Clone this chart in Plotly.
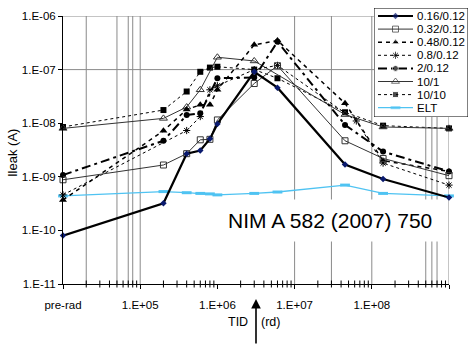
import plotly.graph_objects as go

# ---------------- data ----------------
PRE = 1e4      # position used for "pre-rad"
ANN = 1e9      # position used for "annealing"

tick_vals = [1e4, 1e5, 1e6, 1e7, 1e8, 1e9]
tick_text = ["pre-rad", "1.E+05", "1.E+06", "1.E+07", "1.E+08", "annealing"]
minor_vals = [m * 10 ** e for e in range(4, 9) for m in range(2, 10)]
ytick_vals = [1e-11, 1e-10, 1e-9, 1e-8, 1e-7, 1e-6]
ytick_text = ["1.E-11", "1.E-10", "1.E-09", "1.E-08", "1.E-07", "1.E-06"]

s016_x = [PRE, 2e5, 4e5, 6e5, 8e5, 1e6, 3e6, 6e6, 4.5e7, 1.4e8, ANN]
s016_y = [8e-11, 3.2e-10, 2.7e-9, 3.1e-9, 5.1e-9, 9.7e-9, 9.1e-8, 4.6e-8, 1.7e-9, 9.1e-10, 4.1e-10]

s032_x = [PRE, 2e5, 4e5, 6e5, 8e5, 1e6, 3e6, 6e6, 4.5e7, 1.4e8, ANN]
s032_y = [8.8e-10, 1.66e-9, 2.7e-9, 4.9e-9, 5.0e-9, 1.15e-8, 5.5e-8, 1.18e-7, 4.7e-9, 2.2e-9, 1.05e-9]

s048_x = [PRE, 2e5, 4e5, 6e5, 8e5, 1e6, 3e6, 6e6, 4.5e7, 1.4e8, ANN]
s048_y = [3.7e-10, 7.2e-9, 1.8e-8, 2.2e-8, 2.2e-8, 4.2e-8, 2.9e-7, 3.5e-7, 2.35e-8, 2.0e-9, 1.26e-9]

s08_x = [PRE, 4e5, 6e5, 8e5, 1e6, 3e6, 6e6, 6.3e7, 1.4e8, ANN]
s08_y = [4.6e-10, 7.3e-9, 1.33e-8, 4.2e-8, 5.0e-8, 1.0e-7, 1.2e-7, 1.1e-8, 1.8e-9, 7e-10]

s2_x = [PRE, 2e5, 4e5, 6e5, 1e6, 3e6, 6e6, 4.5e7, 1.4e8, ANN]
s2_y = [1.08e-9, 4.7e-9, 1.42e-8, 1.53e-8, 6.9e-8, 7.1e-8, 3.3e-7, 9.3e-9, 2.95e-9, 1.26e-9]

s10_1_x = [PRE, 2e5, 4e5, 6e5, 1e6, 3e6, 4.5e7, 1.4e8, ANN]
s10_1_y = [8.0e-9, 1.23e-8, 2.0e-8, 4.2e-8, 1.7e-7, 1.45e-7, 1.45e-8, 8.5e-9, 8.0e-9]

s10_10_x = [PRE, 2e5, 4e5, 6e5, 8e5, 1e6, 3e6, 6e6, 4.5e7, 1.4e8, ANN]
s10_10_y = [8.5e-9, 1.76e-8, 3.9e-8, 9.1e-8, 1.09e-7, 1.13e-7, 1.0e-7, 6.9e-8, 1.6e-8, 9.0e-9, 8.0e-9]

elt_x = [PRE, 2e5, 4e5, 6e5, 8e5, 1e6, 3e6, 6e6, 4.5e7, 1.4e8, ANN]
elt_y = [4.4e-10, 5.3e-10, 5.05e-10, 4.9e-10, 4.8e-10, 4.6e-10, 4.9e-10, 5.2e-10, 7.0e-10, 4.9e-10, 4.4e-10]

labels = ["0.16/0.12", "0.32/0.12", "0.48/0.12", "0.8/0.12", "2/0.12", "10/1", "10/10", "ELT"]

grid_x = [2e4, 5e4, 7e4, 8e4, 1e5, 1e7, 3e7, 1e8, 5e8, 6e8, 7e8, 1e9]
grid_y = [1e-7, 1e-6]

# ---------------- styles ----------------
ELT_COLOR = "#4FC3F2"
GRID = "#8a8a8a"
styles = [
    dict(line=dict(color="black", width=2.2), marker=dict(symbol="diamond", size=5, color="#0A1A6E", line=dict(width=0))),
    dict(line=dict(color="#333333", width=1), marker=dict(symbol="square-open", size=6, color="#333333", line=dict(width=1))),
    dict(line=dict(color="black", width=1.5, dash="4px,4px"), marker=dict(symbol="triangle-up", size=7, color="black")),
    dict(line=dict(color="black", width=1, dash="dot"), marker=dict(symbol="asterisk-open", size=6, color="black", line=dict(width=1, color="black"))),
    dict(line=dict(color="black", width=2, dash="9px,4px,3px,4px"), marker=dict(symbol="circle", size=6, color="black")),
    dict(line=dict(color="#333333", width=1), marker=dict(symbol="triangle-up-open", size=7, color="#333333", line=dict(width=1))),
    dict(line=dict(color="black", width=1, dash="dot"), marker=dict(symbol="square", size=6, color="black")),
    dict(line=dict(color=ELT_COLOR, width=1.3), marker=dict(symbol="line-ew-open", size=7, color=ELT_COLOR, line=dict(width=3, color=ELT_COLOR))),
]

series = [(s016_x, s016_y), (s032_x, s032_y), (s048_x, s048_y), (s08_x, s08_y),
          (s2_x, s2_y), (s10_1_x, s10_1_y), (s10_10_x, s10_10_y), (elt_x, elt_y)]

fig = go.Figure()

# grid lines as one line trace on the main axes
gx_pts, gy_pts = [], []
for gx in grid_x:
    gx_pts += [gx, gx, None]
    gy_pts += [1e-11, 1e-6, None]
for gy in grid_y:
    gx_pts += [1e4, 1e9, None]
    gy_pts += [gy, gy, None]
fig.add_trace(go.Scatter(x=gx_pts, y=gy_pts, mode="lines", line=dict(color=GRID, width=1),
                         showlegend=False, hoverinfo="skip", xaxis="x", yaxis="y"))

# minor ticks of the x axis, drawn as short vertical marks on the axis line
fig.add_trace(go.Scatter(x=minor_vals, y=[1e-11] * len(minor_vals), mode="markers",
                         marker=dict(symbol="line-ns-open", size=5, color="black",
                                     line=dict(width=1, color="black")),
                         showlegend=False, hoverinfo="skip", cliponaxis=False,
                         xaxis="x", yaxis="y"))

order = [7, 6, 5, 4, 3, 2, 1, 0]
for i in order:
    xs, ys = series[i]
    st = styles[i]
    fig.add_trace(go.Scatter(x=xs, y=ys, mode="lines+markers", name=labels[i],
                             line=st["line"], marker=st["marker"], showlegend=False,
                             xaxis="x", yaxis="y", cliponaxis=False))

# ---------------- custom legend (on a separate small subplot) ----------------
row_y = [8 + 13.1 * k for k in range(len(labels))]
for k, lab in enumerate(labels):
    st = styles[k]
    mk = dict(st["marker"])
    mk["size"] = [0, st["marker"]["size"], 0]
    fig.add_trace(go.Scatter(x=[4, 21.5, 39], y=[row_y[k]] * 3, mode="lines+markers",
                             line=st["line"], marker=mk, showlegend=False,
                             xaxis="x2", yaxis="y2", hoverinfo="skip"))

W, H = 469, 345
ml, mr, mt, mb = 63, 1, 8, 61
pw, ph = W - ml - mr, H - mt - mb

def px_x(px):
    return (px - ml) / pw

def px_y(py):
    return (H - mb - py) / ph

shapes = [dict(type="rect", xref="x2", yref="y2", x0=0, x1=94, y0=0, y1=109,
               line=dict(color="black", width=1), fillcolor="white", layer="below")]

annotations = []
for k, lab in enumerate(labels):
    annotations.append(dict(xref="x2", yref="y2", x=41, y=row_y[k], text=lab, showarrow=False,
                            xanchor="left", yanchor="middle",
                            font=dict(family="Liberation Sans, Arial", size=11.5, color="black")))

annotations += [
    dict(xref="paper", yref="paper", x=px_x(12), y=px_y(153), text="Ileak (A)", textangle=-90,
         xanchor="center", yanchor="middle",
         showarrow=False, font=dict(family="Liberation Sans, Arial", size=13, color="black")),
    dict(xref="paper", yref="paper", x=px_x(250), y=px_y(321.7), text="TID", xanchor="right",
         yanchor="middle", showarrow=False, font=dict(family="Liberation Sans, Arial", size=12.5, color="black")),
    dict(xref="paper", yref="paper", x=px_x(259), y=px_y(321.7), text="(rd)", xanchor="left",
         yanchor="middle", showarrow=False, font=dict(family="Liberation Sans, Arial", size=12.5, color="black")),
    dict(xref="paper", yref="paper", x=px_x(256), y=px_y(299), text="", showarrow=True,
         arrowhead=2, arrowsize=1.2, arrowwidth=1.6, arrowcolor="black", ax=0, ay=48),
    dict(xref="paper", yref="paper", x=px_x(330), y=px_y(242), text="NIM A 582 (2007) 750",
         showarrow=False, bgcolor="white", borderpad=9,
         font=dict(family="Liberation Sans, Arial", size=21, color="black")),
]

axis_font = dict(family="Liberation Sans, Arial", size=11.5, color="black")
fig.update_layout(
    template="none",
    width=W, height=H,
    margin=dict(l=ml, r=mr, t=mt, b=mb),
    paper_bgcolor="white", plot_bgcolor="white",
    showlegend=False,
    xaxis=dict(type="log", range=[4, 9], domain=[0, (449 - ml) / pw],
               tickmode="array", tickvals=tick_vals, ticktext=tick_text, tickfont=axis_font,
               showgrid=False, zeroline=False, showline=True, linecolor="black", linewidth=1,
               ticks="outside", ticklen=4, tickcolor="black", ticklabelstandoff=6),
    yaxis=dict(type="log", range=[-11, -6], domain=[0, (284 - mt - 8) / ph],
               tickmode="array", tickvals=ytick_vals, ticktext=ytick_text, tickfont=axis_font,
               showgrid=False, zeroline=False, showline=True, linecolor="black", linewidth=1,
               ticks="outside", ticklen=4, tickcolor="black"),
    xaxis2=dict(domain=[px_x(374), 1.0], range=[0, 94], visible=False, anchor="y2", fixedrange=True,
                showgrid=False),
    yaxis2=dict(domain=[px_y(117), 1.0], range=[109, 0], visible=False, anchor="x2", fixedrange=True,
                showgrid=False),
    shapes=shapes,
    annotations=annotations,
)

fig.write_html("out.html")
